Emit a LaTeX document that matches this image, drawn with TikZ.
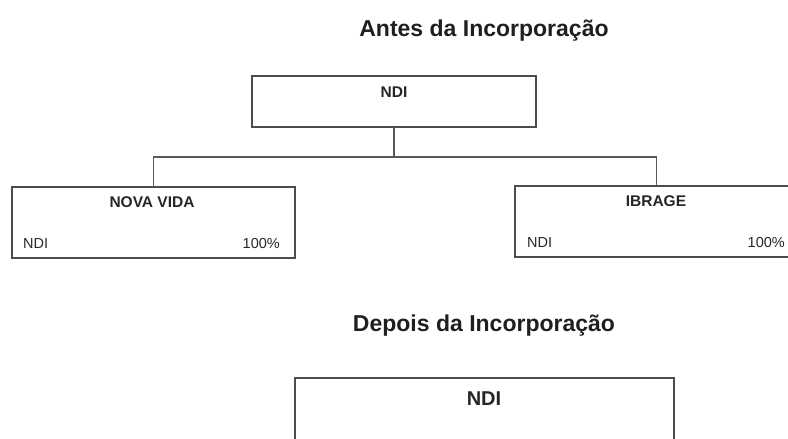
\documentclass[tikz,border=0pt]{standalone}
\usepackage{fontspec}
\setmainfont{Liberation Sans}
\begin{document}
\begin{tikzpicture}[x=1pt,y=-1pt,
  boxline/.style={draw=black!70,line width=1.2pt},
  orgbox/.style={boxline,rectangle,inner sep=0pt,outer sep=0pt,fill=none},
  conn/.style={draw=black!65,line width=1.1pt},
  title/.style={font=\bfseries\fontsize{23}{27}\selectfont,text=black!88,anchor=base,inner sep=0pt},
  boxhead/.style={font=\bfseries\fontsize{15.5}{18}\selectfont,text=black!85,anchor=base,inner sep=0pt},
  boxtext/.style={font=\fontsize{14.5}{17}\selectfont,text=black!85,inner sep=0pt},
  bighead/.style={font=\bfseries\fontsize{20}{24}\selectfont,text=black!85,anchor=base,inner sep=0pt}]
\useasboundingbox (0,0) rectangle (788,439);
\clip (0,0) rectangle (788,439);
% titles
\node[title] (t1) at (484,36) {Antes da Incorporação};
\node[title] (t2) at (484,331) {Depois da Incorporação};
% top box
\node[orgbox,minimum width=284pt,minimum height=51pt] (ndi) at (394,101.5) {};
\node[boxhead] (ndil) at (394,97.5) {NDI};
% Nova Vida box
\node[orgbox,minimum width=283pt,minimum height=71pt] (nv) at (153.5,222.5) {};
\node[boxhead] (nvl) at (152,207.5) {NOVA VIDA};
\node[boxtext,anchor=base west] (nvn) at (23,248) {NDI};
\node[boxtext,anchor=base east] (nvp) at (280,248) {100\%};
% Ibrage box
\node[orgbox,minimum width=283pt,minimum height=71pt] (ib) at (656.5,221.5) {};
\node[boxhead] (ibl) at (656,206.5) {IBRAGE};
\node[boxtext,anchor=base west] (ibn) at (527,247) {NDI};
\node[boxtext,anchor=base east] (ibp) at (785,247) {100\%};
% connectors
\coordinate (j) at (ndi.south |- 0,157);
\draw[conn] (ndi.south) -- (j);
\draw[conn] (j) -| (nv.north);
\draw[conn] (j) -| (ib.north);
% bottom box
\node[orgbox,minimum width=379pt,minimum height=90pt] (ndi2) at (484.5,423) {};
\node[bighead] (ndi2l) at (484,405) {NDI};
\end{tikzpicture}
\end{document}
